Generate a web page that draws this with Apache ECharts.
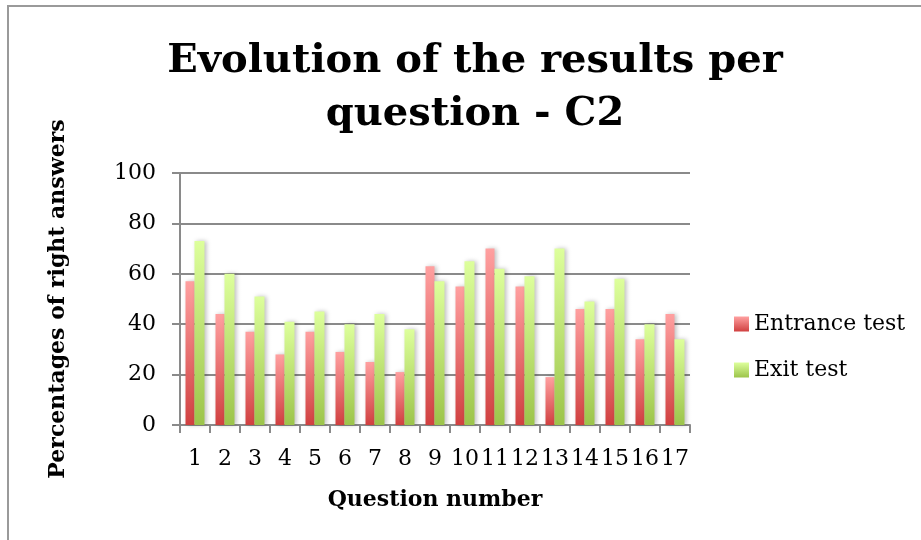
<!DOCTYPE html>
<html>
<head>
<meta charset="utf-8">
<script src="https://cdn.jsdelivr.net/npm/echarts@6/dist/echarts.min.js"></script>
<style>
  html, body { margin: 0; padding: 0; background: #fff; }
  #main { width: 921px; height: 540px; }
</style>
</head>
<body>
<div id="main"></div>
<script>
// values
const questions = ['1', '2', '3', '4', '5', '6', '7', '8', '9', '10', '11', '12', '13', '14', '15', '16', '17'];
const entranceTest = [57, 44, 37, 28, 37, 29, 25, 21, 63, 55, 70, 55, 19, 46, 46, 34, 44];
const exitTest = [73, 60, 51, 41, 45, 40, 44, 38, 57, 65, 62, 59, 70, 49, 58, 40, 34];
const yTicks = [0, 20, 40, 60, 80, 100];

const serif = '"DejaVu Serif", "Liberation Serif", serif';

function grad(top, bottom) {
    return new echarts.graphic.LinearGradient(0, 0, 0, 1, [
        { offset: 0, color: top },
        { offset: 1, color: bottom }
    ]);
}

var myChart = echarts.init(document.getElementById('main'));
var option = {
    backgroundColor: '#fff',
    animation: false,
    title: {
        text: 'Evolution of the results per\nquestion - C2',
        left: 470,
        top: 30,
        textAlign: 'center',
        textStyle: {
            fontFamily: serif,
            fontWeight: 'bold',
            fontSize: 40,
            lineHeight: 53,
            color: '#000'
        }
    },
    graphic: [
        {
            type: 'rect',
            shape: { x: 8, y: 6, width: 930, height: 560 },
            style: { fill: 'none', stroke: '#9a9a9a', lineWidth: 2 }
        }
    ],
    legend: {
        orient: 'vertical',
        left: 729,
        top: 308,
        itemWidth: 15,
        itemHeight: 15,
        itemGap: 24,
        icon: 'rect',
        textStyle: { fontFamily: serif, fontSize: 22, color: '#000' },
        data: ['Entrance test', 'Exit test']
    },
    grid: { left: 180, right: 231, top: 173, bottom: 115 },
    xAxis: {
        type: 'category',
        data: questions,
        name: 'Question number',
        nameLocation: 'middle',
        nameGap: 64,
        nameTextStyle: { fontFamily: serif, fontWeight: 'bold', fontSize: 22, color: '#000' },
        axisLine: { lineStyle: { color: '#8a8a8a', width: 2 } },
        axisTick: { show: true, length: 8, lineStyle: { color: '#8a8a8a', width: 2 } },
        axisLabel: { fontFamily: serif, fontSize: 22, color: '#000', margin: 23, interval: 0 }
    },
    yAxis: {
        type: 'value',
        min: 0,
        max: 100,
        interval: 20,
        name: 'Percentages of right answers',
        nameLocation: 'middle',
        nameGap: 111,
        nameTextStyle: { fontFamily: serif, fontWeight: 'bold', fontSize: 22, color: '#000' },
        axisLine: { show: true, lineStyle: { color: '#8a8a8a', width: 2 } },
        axisTick: { show: true, length: 8, lineStyle: { color: '#8a8a8a', width: 2 } },
        axisLabel: {
            fontFamily: serif, fontSize: 22, color: '#000', margin: 24,
            formatter: function (v) { return yTicks.indexOf(v) >= 0 ? String(v) : ''; }
        },
        splitLine: { lineStyle: { color: '#8a8a8a', width: 2 } }
    },
    series: [
        {
            name: 'Entrance test',
            type: 'bar',
            data: entranceTest,
            barWidth: 9,
            barGap: '0%',
            itemStyle: {
                color: grad('#ffa0a0', '#d04040'),
                shadowColor: 'rgba(0,0,0,0.25)',
                shadowBlur: 4,
                shadowOffsetX: 2
            }
        },
        {
            name: 'Exit test',
            type: 'bar',
            data: exitTest,
            barWidth: 10,
            itemStyle: {
                color: grad('#ddff9c', '#9cc44a'),
                shadowColor: 'rgba(0,0,0,0.25)',
                shadowBlur: 4,
                shadowOffsetX: 2
            }
        }
    ]
};
option && myChart.setOption(option);
</script>
</body>
</html>
